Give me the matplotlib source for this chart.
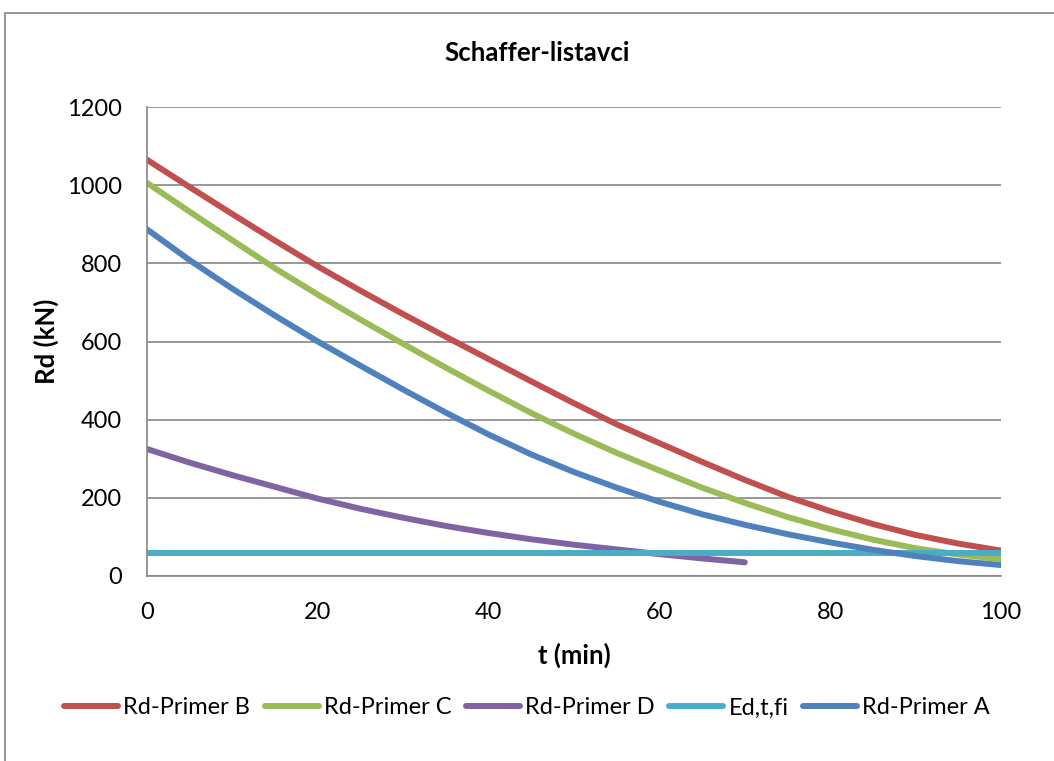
import matplotlib
matplotlib.use("Agg")
import matplotlib.pyplot as plt
from matplotlib.patches import Rectangle

# Time axis (minutes) and load-bearing resistance series (kN)
t = [0, 5, 10, 15, 20, 25, 30, 35, 40, 45, 50, 55, 60, 65, 70, 75, 80, 85, 90, 95, 100]
rd_b = [1065, 995, 926, 858, 792, 730, 670, 612, 555, 498, 442, 388, 340, 292, 246, 203, 166, 133, 105, 83, 65]
rd_c = [1006, 932, 859, 787, 720, 656, 594, 533, 474, 417, 364, 315, 270, 226, 187, 151, 120, 93, 71, 55, 43]
t_d = [0, 5, 10, 15, 20, 25, 30, 35, 40, 45, 50, 55, 60, 65, 70]
rd_d = [325, 290, 258, 228, 198, 172, 149, 128, 110, 94, 80, 68, 56, 45, 35]
t_ed = [0, 100]
ed_t_fi = [60, 60]
rd_a = [887, 808, 735, 666, 600, 538, 477, 418, 362, 311, 266, 226, 190, 158, 131, 107, 86, 67, 51, 38, 28]

labels = ["Rd-Primer B", "Rd-Primer C", "Rd-Primer D", "Ed,t,fi", "Rd-Primer A"]
colors = ["#C0504D", "#9BBB59", "#8064A2", "#4BACC6", "#4F81BD"]

plt.rcParams["font.family"] = ["Lato", "DejaVu Sans"]

W, H = 1054, 761
fig = plt.figure(figsize=(W / 100, H / 100), dpi=100)
ax = fig.add_axes([147 / W, 1 - 576 / H, (1001 - 147) / W, (576 - 107) / H])

series = [(t, rd_b), (t, rd_c), (t_d, rd_d), (t_ed, ed_t_fi), (t, rd_a)]
lw = 4.3
for (xs, ys), lab, col in zip(series, labels, colors):
    ax.plot(xs, ys, color=col, lw=lw, label=lab, solid_capstyle="round",
            solid_joinstyle="round")

grid_col = "#868686"
fs = 17
ax.set_xlim(0, 100)
ax.set_ylim(0, 1200)
ax.set_xticks(range(0, 101, 20))
ax.set_yticks(range(0, 1201, 200))
ax.yaxis.grid(True, color=grid_col, lw=1.2)
ax.set_axisbelow(True)
for s in ["top", "right"]:
    ax.spines[s].set_visible(False)
for s in ["left", "bottom"]:
    ax.spines[s].set_color(grid_col)
    ax.spines[s].set_linewidth(1.2)
ax.tick_params(axis="both", length=0, labelsize=fs, labelcolor="black")
ax.tick_params(axis="y", pad=18)
ax.tick_params(axis="x", pad=19)

ax.set_xlabel("t (min)", fontsize=18.5, fontweight="bold")
ax.xaxis.label.set_va("center")
ax.xaxis.set_label_coords(0.5, (576 - 655) / (576 - 107))
ax.set_ylabel("Rd (kN)", fontsize=18.5, fontweight="bold")
ax.yaxis.label.set_va("center")
ax.yaxis.set_label_coords((46 - 147) / (1001 - 147), 0.5)

fig.text(537 / W, 1 - 53 / H, "Schaffer-listavci", ha="center", va="center",
         fontsize=18.5, fontweight="bold")

leg = fig.legend(loc="center", bbox_to_anchor=(527 / W, 1 - 708 / H), ncol=5,
                 frameon=False, fontsize=fs, handlelength=2.3, handletextpad=0.22,
                 columnspacing=0.6)
for line in leg.get_lines():
    line.set_linewidth(lw)

# chart area border
fig.patches.append(Rectangle((5 / W, -0.1), 1.2, 1 - 13 / H + 0.1,
                             transform=fig.transFigure, fill=False,
                             edgecolor="#868686", lw=1.2))

fig.savefig("out.png", dpi=100, facecolor="white")
